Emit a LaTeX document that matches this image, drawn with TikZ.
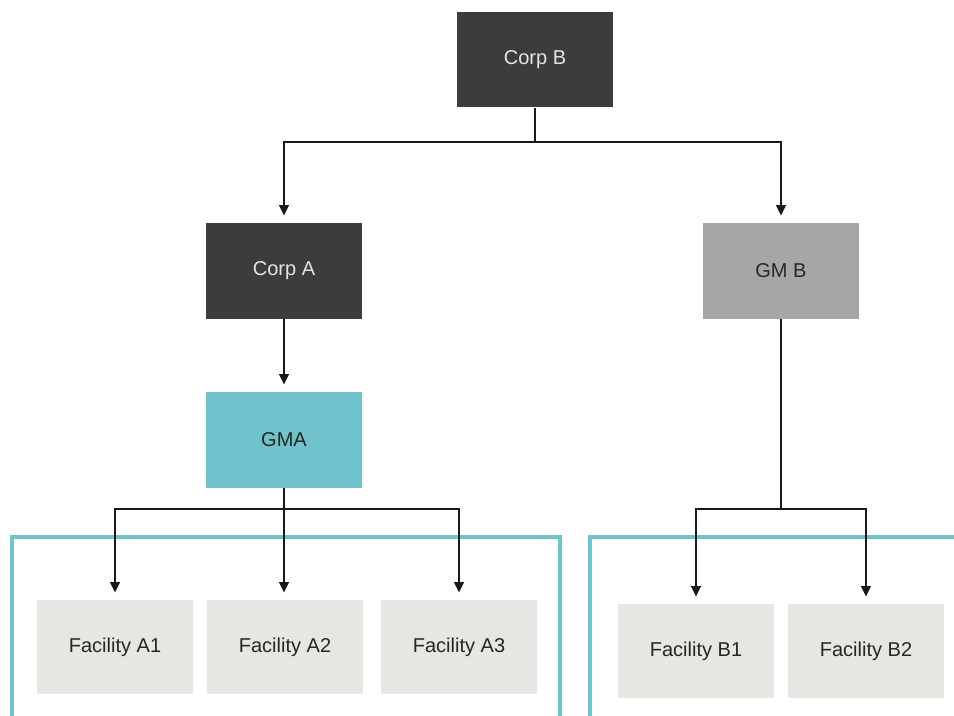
\documentclass[tikz,border=0pt]{standalone}
\usepackage{fontspec}
\setmainfont{Liberation Sans}
\usetikzlibrary{arrows.meta, calc}
\definecolor{corpdark}{HTML}{3C3C3C}
\definecolor{gmgray}{HTML}{A6A6A6}
\definecolor{gmteal}{HTML}{70C2CC}
\definecolor{facgray}{HTML}{E6E6E3}

\tikzset{
  orgbox/.style={rectangle, minimum width=3.12cm, minimum height=1.92cm, inner sep=0pt,
    font=\fontsize{11.4}{13}\selectfont},
  corpbox/.style={orgbox, fill=corpdark, text=white!90!black},
  gmbbox/.style={orgbox, fill=gmgray, text=black!85},
  gmabox/.style={orgbox, fill=gmteal, text=black!85},
  facbox/.style={orgbox, fill=facgray, text=black!85, minimum height=1.88cm},
  link/.style={line width=1.2pt, black!90},
  arr/.style={link, -{Triangle[width=5.5pt,length=6pt]}, shorten >=4pt},
  frame/.style={line width=2.8pt, gmteal}
}

\begin{document}
\begin{tikzpicture}[x=0.02cm, y=-0.02cm]
    \useasboundingbox (0,0) rectangle (954,716);

    % group frames
    \draw[frame] (12,716) -- (12,537) -- (560,537) -- (560,716);
    \draw[frame] (590,716) -- (590,537) -- (956,537);

    \node[corpbox] (corpb) at (535,59.5) {Corp B};
    \node[corpbox] (corpa) at (284,271) {Corp A};
    \node[gmbbox]  (gmb)   at (781,271) {GM B};
    \node[gmabox]  (gma)   at (284,440) {GMA};

    \node[facbox] (fa1) at (115,647) {Facility A1};
    \node[facbox] (fa2) at (285,647) {Facility A2};
    \node[facbox] (fa3) at (459,647) {Facility A3};
    \node[facbox] (fb1) at (696,651) {Facility B1};
    \node[facbox] (fb2) at (866,651) {Facility B2};

    \coordinate (splitb) at (535,142);
    \coordinate (splita) at (284,509);
    \coordinate (splitgmb) at (781,509);

    \draw[link] (corpb.south) -- (splitb);
    \draw[arr] (splitb) -| (corpa.north);
    \draw[arr] (splitb) -| (gmb.north);

    \draw[arr] (corpa.south) -- (gma.north);

    \draw[link] (gma.south) -- (splita);
    \draw[arr] (splita) -| (fa1.north);
    \draw[arr] (splita) -- (splita |- fa2.north);
    \draw[arr] (splita) -| (fa3.north);

    \draw[link] (gmb.south) -- (splitgmb);
    \draw[arr] (splitgmb) -| (fb1.north);
    \draw[arr] (splitgmb) -| (fb2.north);
\end{tikzpicture}
\end{document}
